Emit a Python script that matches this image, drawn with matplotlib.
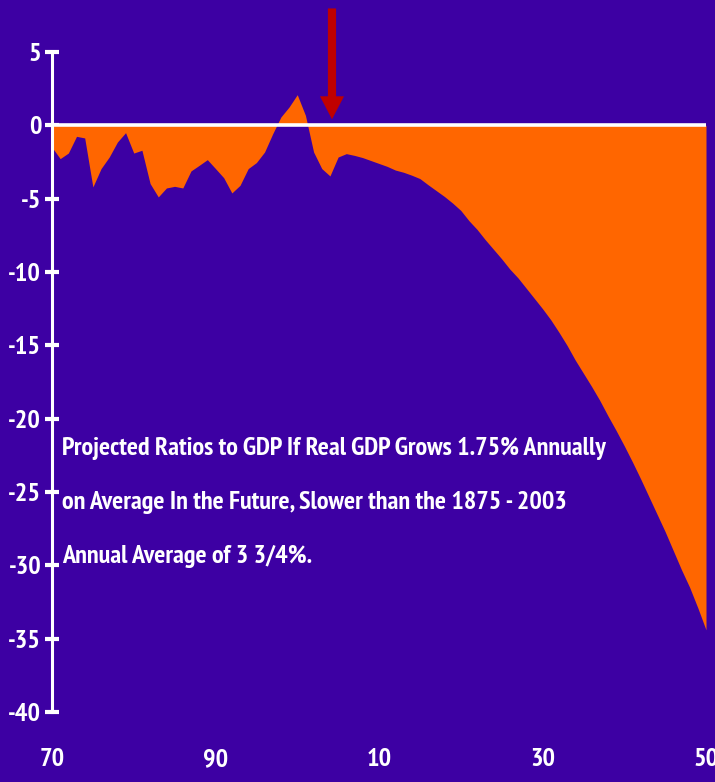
"""
Projected ratios to GDP, 1970-2050: orange deficit area on a purple slide.
"""
import matplotlib
matplotlib.use("Agg")
import matplotlib.pyplot as plt

# --- data -----------------------------------------------------------------
years = list(range(1970, 2051))
ratio = [
    -1.5, -2.27, -1.89, -0.75, -0.86, -4.2, -2.95, -2.16, -1.14, -0.5,    # 1970s
    -1.89, -1.7, -3.97, -4.88, -4.27, -4.16, -4.27, -3.11, -2.73, -2.34,  # 1980s
    -2.95, -3.57, -4.61, -4.09, -2.95, -2.54, -1.82, -0.57, 0.57, 1.25,   # 1990s
    2.09, 0.68, -1.82, -2.95, -3.45, -2.16, -1.93, -2.05, -2.2, -2.4,     # 2000s
    -2.6, -2.8, -3.05, -3.2, -3.4, -3.63, -4.05, -4.45, -4.85, -5.3,      # 2010s
    -5.8, -6.5, -7.1, -7.8, -8.45, -9.1, -9.8, -10.4, -11.1, -11.8,       # 2020s
    -12.5, -13.25, -14.1, -15.0, -16.0, -16.9, -17.8, -18.75, -19.8, -20.8,  # 2030s
    -21.85, -22.95, -24.1, -25.3, -26.5, -27.7, -29.0, -30.3, -31.5, -32.9,  # 2040s
    -34.4,
]
x_ticks = [1970, 1990, 2010, 2030, 2050]
x_labels = ["70", "90", "10", "30", "50"]
y_ticks = list(range(-40, 10, 5))

note_lines = [
    "Projected Ratios to GDP If Real GDP Grows 1.75% Annually",
    "on Average In the Future, Slower than the 1875 - 2003",
    "Annual Average of 3 3/4%.",
]
note_x = 1971.2
note_y = [-22.49, -26.17, -29.85]

# arrow marking the present year
arrow_x = 2004.25
arrow_top = 7.97
arrow_tip = 0.41

# --- style ----------------------------------------------------------------
BG = "#3D00A3"
ORANGE = "#FF6600"
RED = "#C00000"
WHITE = "#FFFFFF"
FONT = ["PT Sans Narrow", "Roboto Condensed", "DejaVu Sans"]

plt.rcParams.update({
    "font.family": FONT,
    "font.weight": "bold",
    "axes.unicode_minus": False,
})

fig = plt.figure(figsize=(7.15, 7.82), dpi=100, facecolor=BG)
ax = fig.add_axes([52 / 715, 70 / 782, 654 / 715, 660 / 782])
ax.set_facecolor(BG)

ax.fill_between(years, ratio, 0, color=ORANGE, linewidth=0, zorder=2)
ax.axhline(0, color=WHITE, linewidth=2.6, zorder=3)

ax.set_xlim(1970, 2050)
ax.set_ylim(-40, 5)

ax.spines[["top", "right", "bottom"]].set_visible(False)
ax.spines["left"].set_color(WHITE)
ax.spines["left"].set_linewidth(2.2)
ax.spines["left"].set_zorder(4)

ax.set_yticks(y_ticks)
ax.tick_params(axis="y", direction="inout", length=9.5, width=3,
               color=WHITE, labelcolor=WHITE, labelsize=19, pad=3)
ax.set_xticks(x_ticks, x_labels)
ax.tick_params(axis="x", length=0, labelcolor=WHITE, labelsize=19, pad=26)

for line, y in zip(note_lines, note_y):
    ax.text(note_x, y, line, color=WHITE, fontsize=18.8, fontweight="bold",
            ha="left", va="baseline", zorder=5)

ax.arrow(arrow_x, arrow_top, 0, arrow_tip - arrow_top, width=1.0,
         head_width=2.94, head_length=1.57, length_includes_head=True,
         color=RED, linewidth=0, clip_on=False, zorder=6)

fig.savefig("out.png", dpi=100, facecolor=BG)
